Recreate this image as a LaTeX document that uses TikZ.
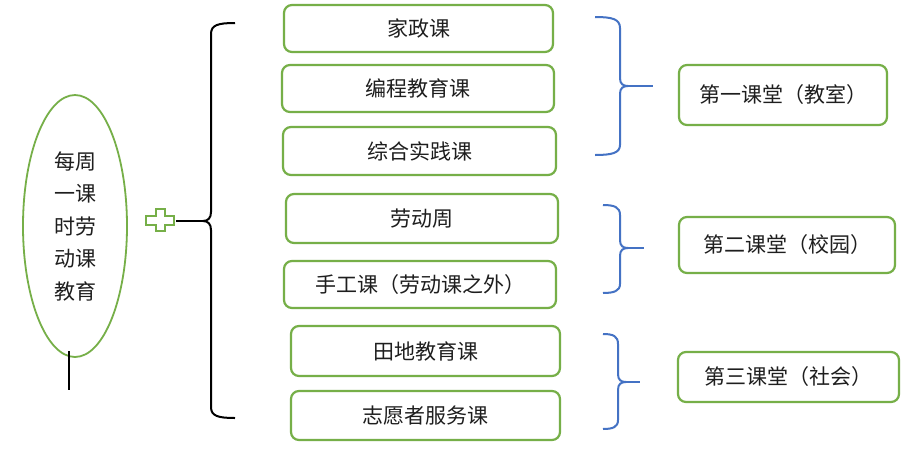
\documentclass[tikz,border=0pt]{standalone}
\usepackage{fontspec}
\newfontfamily\cjk{Noto Sans CJK SC}
\usetikzlibrary{shapes.geometric}
\definecolor{gr}{RGB}{118,175,72}
\definecolor{bl}{RGB}{68,114,196}
\definecolor{tx}{RGB}{30,30,30}
\begin{document}
\begin{tikzpicture}[x=1pt,y=-1pt,
  box/.style={draw=gr,line width=2.2pt,rounded corners=8pt,fill=white,inner sep=0pt,
    font=\cjk\fontsize{21}{25}\selectfont,text=tx},
  bluebr/.style={draw=bl,line width=2pt},
  blackbr/.style={draw=black,line width=2pt},
  ell/.style={draw=gr,line width=1.8pt,ellipse,inner sep=0pt,align=center,
    font=\cjk\fontsize{21}{32.5}\selectfont,text=tx}]
\useasboundingbox[fill=white] (0,0) rectangle (924,450);

% left ellipse
\node[ell,minimum width=104pt,minimum height=262pt] (e) at (75,226) {每周\\一课\\时劳\\动课\\教育};
\coordinate (l1) at (69,351);
\coordinate (l2) at (69,390);
\draw[blackbr] (l1) -- (l2);

% plus sign
\draw[draw=gr,line width=2pt,fill=white]
  (146,215.5) -- (155.5,215.5) -- (155.5,209) -- (164.5,209) -- (164.5,215.5) -- (174,215.5)
  -- (174,224.5) -- (164.5,224.5) -- (164.5,231) -- (155.5,231) -- (155.5,224.5) -- (146,224.5) -- cycle;
\coordinate (pl) at (176,221);

% black brace
\coordinate (bt) at (203,221);
\draw[blackbr] (235,23) .. controls (218,23) and (211,25) .. (211,34) -- (211,212)
  .. controls (211,218) and (208,221) .. (bt) .. controls (208,221) and (211,224) .. (211,230)
  -- (211,407) .. controls (211,416) and (218,418) .. (235,418);
\draw[blackbr] (pl) -- (bt);

% course boxes
\node[box,minimum width=269pt,minimum height=47pt] (b1) at (418.5,28.5) {家政课};
\node[box,minimum width=272pt,minimum height=47pt] (b2) at (418,88.5) {编程教育课};
\node[box,minimum width=273pt,minimum height=48pt] (b3) at (419.5,151) {综合实践课};
\node[box,minimum width=272pt,minimum height=49pt] (b4) at (422,218.5) {劳动周};
\node[box,minimum width=272pt,minimum height=47pt] (b5) at (420,284.5) {手工课（劳动课之外）};
\node[box,minimum width=269pt,minimum height=50pt] (b6) at (425.5,351) {田地教育课};
\node[box,minimum width=269pt,minimum height=49pt] (b7) at (425.5,415.5) {志愿者服务课};

% blue braces
\coordinate (t1) at (628,86);
\draw[bluebr] (595,17) .. controls (612,17) and (620,19) .. (620,28) -- (620,78)
  .. controls (620,84) and (623,86) .. (t1) .. controls (623,86) and (620,88) .. (620,94)
  -- (620,145) .. controls (620,153) and (612,155) .. (595,155);
\coordinate (u1) at (653,86);
\draw[bluebr] (t1) -- (u1);

\coordinate (t2) at (628,248);
\draw[bluebr] (603,205) .. controls (614,205) and (620,207) .. (620,215) -- (620,240)
  .. controls (620,246) and (623,248) .. (t2) .. controls (623,248) and (620,250) .. (620,256)
  -- (620,284) .. controls (620,291) and (614,293) .. (603,293);
\coordinate (u2) at (644,248);
\draw[bluebr] (t2) -- (u2);

\coordinate (t3) at (626,382);
\draw[bluebr] (603,334) .. controls (613,334) and (618,336) .. (618,344) -- (618,374)
  .. controls (618,380) and (621,382) .. (t3) .. controls (621,382) and (618,384) .. (618,390)
  -- (618,420) .. controls (618,427) and (613,429) .. (603,429);
\coordinate (u3) at (640,382);
\draw[bluebr] (t3) -- (u3);

% classroom boxes
\node[box,minimum width=208pt,minimum height=60pt] (r1) at (783,95) {第一课堂（教室）};
\node[box,minimum width=216pt,minimum height=56pt] (r2) at (787,245) {第二课堂（校园）};
\node[box,minimum width=221pt,minimum height=50pt] (r3) at (788.5,377) {第三课堂（社会）};
\end{tikzpicture}
\end{document}
